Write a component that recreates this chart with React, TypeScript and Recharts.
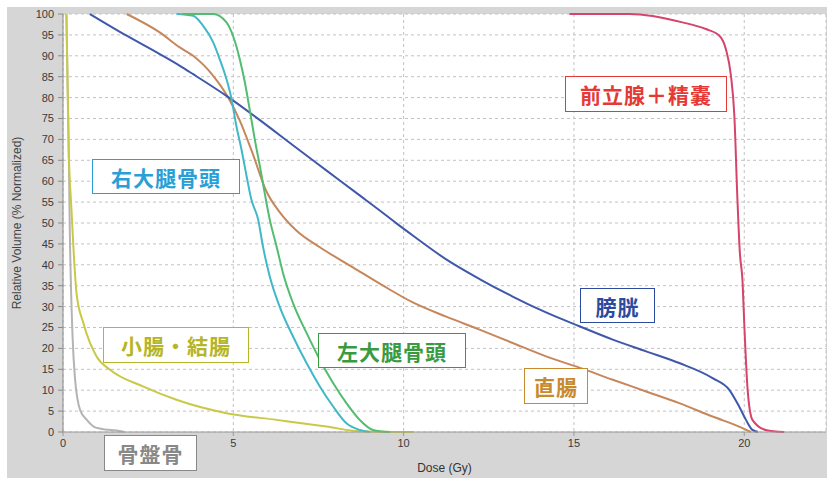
import React from 'react';
import { LineChart, Line, XAxis, YAxis, CartesianGrid } from 'recharts';

// Dose (Gy) and relative volume (%) per structure
const bladderDose = [0.79, 1.87, 2.84, 3.43, 3.82, 4.8, 5.78, 6.75, 7.73, 8.71, 9.3, 9.79, 10.27, 11.25, 12.23, 13.2, 14.18, 15.16, 16.14, 17.12, 18.09, 19.07, 19.56, 19.85, 20.05, 20.24, 20.4];
const bladderVol = [100, 94.8, 90.4, 87.6, 85.6, 80.4, 74.6, 68.6, 62.6, 56.6, 53.0, 49.9, 47.0, 41.3, 36.6, 32.4, 28.6, 25.3, 22.1, 19.3, 16.5, 12.9, 10.1, 6.1, 2.9, 0.5, 0];

const rectumDose = [1.87, 2.84, 3.43, 3.82, 4.41, 4.85, 5.19, 5.55, 5.97, 6.36, 6.85, 7.54, 8.51, 9.4, 10.27, 11.25, 12.23, 13.2, 14.18, 15.16, 16.14, 17.12, 18.09, 19.07, 19.85, 20.2];
const rectumVol = [100, 95.6, 92, 90, 85.2, 80, 74.5, 67, 57.6, 52.6, 48.2, 44.2, 39.4, 35.0, 31.0, 27.6, 24.5, 21.3, 18.1, 15.4, 12.5, 9.7, 6.9, 3.7, 1.3, 0];

const rightFemurDose = [3.33, 3.82, 4.11, 4.41, 4.6, 4.8, 4.95, 5.09, 5.24, 5.39, 5.53, 5.73, 5.87, 6.07, 6.36, 6.75, 7.15, 7.54, 7.93, 8.32, 8.71, 9.0];
const rightFemurVol = [100, 99.6, 97.2, 93.2, 89.2, 84.4, 79.6, 73.2, 67.6, 61.2, 55.6, 50.8, 44.4, 37.2, 30, 22.9, 16.5, 10.9, 6.1, 2.1, 0.5, 0];

const leftFemurDose = [3.5, 4.41, 4.8, 4.99, 5.19, 5.34, 5.48, 5.63, 5.78, 5.92, 6.07, 6.27, 6.46, 6.75, 7.15, 7.54, 7.93, 8.32, 8.71, 9.1, 9.6];
const leftFemurVol = [100, 100, 98, 94.8, 89.2, 83.6, 77.2, 70, 63.6, 57.2, 50.8, 44.4, 38, 30.9, 23.7, 17.3, 11.7, 6.9, 2.9, 0.5, 0];

const bowelDose = [0.1, 0.16, 0.25, 0.3, 0.4, 0.6, 0.99, 1.38, 2.35, 3.33, 4.8, 6.27, 7.73, 8.71, 10.3];
const bowelVol = [100, 70, 53, 45, 33, 26, 18, 14.9, 10.9, 7.7, 4.5, 2.9, 1.3, 0.2, 0];

const pelvisDose = [0.1, 0.16, 0.2, 0.28, 0.35, 0.5, 0.7, 0.9, 1.1, 1.7, 1.8];
const pelvisVol = [100, 72, 48, 23, 13, 5.3, 2.9, 1.3, 0.8, 0.2, 0];

const prostateDose = [14.87, 16.63, 18.19, 18.87, 19.27, 19.46, 19.61, 19.71, 19.8, 19.87, 19.95, 20.0, 20.1, 20.24, 20.63, 21.17];
const prostateVol = [100, 100, 98, 96.4, 94.8, 91.6, 85.2, 75.6, 55.6, 43, 36, 26, 10, 2.9, 0.5, 0];

const xTicks = [0, 5, 10, 15, 20];
const yTicks = [0, 5, 10, 15, 20, 25, 30, 35, 40, 45, 50, 55, 60, 65, 70, 75, 80, 85, 90, 95, 100];

const toPoints = (d: number[], v: number[]) => d.map((x, i) => ({ dose: x, vol: v[i] }));

const series = [
  { key: 'pelvis', data: toPoints(pelvisDose, pelvisVol), color: '#b4b4b4' },
  { key: 'bowel', data: toPoints(bowelDose, bowelVol), color: '#c9c948' },
  { key: 'rectum', data: toPoints(rectumDose, rectumVol), color: '#c6875a' },
  { key: 'bladder', data: toPoints(bladderDose, bladderVol), color: '#3f58aa' },
  { key: 'rightFemur', data: toPoints(rightFemurDose, rightFemurVol), color: '#40b8c8' },
  { key: 'leftFemur', data: toPoints(leftFemurDose, leftFemurVol), color: '#52bd70' },
  { key: 'prostate', data: toPoints(prostateDose, prostateVol), color: '#d5446c' },
];

const labels = [
  { text: '右大腿骨頭', color: '#2a9fd6', left: 92, top: 159, width: 148, height: 35 },
  { text: '前立腺＋精嚢', color: '#e53935', left: 565, top: 76, width: 162, height: 36 },
  { text: '膀胱', color: '#2c4a9e', left: 580, top: 288, width: 75, height: 35 },
  { text: '小腸・結腸', color: '#b5b528', left: 103, top: 327, width: 146, height: 36 },
  { text: '左大腿骨頭', color: '#3a9a40', left: 318, top: 333, width: 148, height: 35 },
  { text: '直腸', color: '#c98a2e', left: 524, top: 368, width: 64, height: 36 },
  { text: '骨盤骨', color: '#888888', left: 104, top: 435, width: 93, height: 36 },
];

const tickStyle = { fill: '#3a3a3a', fontSize: 11, fontFamily: 'Liberation Sans, Arial, sans-serif' };

export default function App() {
  return (
    <div style={{ position: 'absolute', left: 0, top: 0, width: 827, height: 478, background: '#ffffff', overflow: 'hidden' }}>
      <div style={{ position: 'absolute', left: 7, top: 7, right: 0, bottom: 0, background: '#d6d6d6' }} />
      <div style={{ position: 'absolute', left: 0, top: 0 }}>
        <LineChart width={827} height={478} margin={{ top: 14, right: 1, left: 8, bottom: 0 }}>
          <CartesianGrid fill="#ffffff" stroke="#c2c2c2" strokeDasharray="3 3" />
          <XAxis
            type="number"
            dataKey="dose"
            domain={[0, 22.4]}
            ticks={xTicks}
            allowDataOverflow
            height={46}
            stroke="#9a9a9a"
            tickSize={4}
            tickMargin={3}
            tick={tickStyle}
            label={{ value: 'Dose (Gy)', position: 'insideBottom', offset: 6, style: { fill: '#333', fontSize: 12, fontFamily: 'Liberation Sans, Arial, sans-serif' } }}
          />
          <YAxis
            type="number"
            dataKey="vol"
            domain={[0, 100]}
            ticks={yTicks}
            interval={0}
            width={55}
            stroke="#8a8a8a"
            tickSize={5}
            tickMargin={4}
            tick={tickStyle}
            label={{ value: 'Relative Volume (% Normalized)', angle: -90, position: 'insideLeft', offset: 9, style: { textAnchor: 'middle', fill: '#444', fontSize: 12, fontFamily: 'Liberation Sans, Arial, sans-serif' } }}
          />
          {series.map((s) => (
            <Line
              key={s.key}
              data={s.data}
              dataKey="vol"
              type="monotone"
              stroke={s.color}
              strokeWidth={2}
              dot={false}
              isAnimationActive={false}
            />
          ))}
        </LineChart>
      </div>
      {labels.map((l) => (
        <div
          key={l.text}
          style={{
            position: 'absolute',
            left: l.left,
            top: l.top,
            width: l.width,
            height: l.height,
            boxSizing: 'border-box',
            border: `1.5px solid ${l.color}`,
            background: '#ffffff',
            color: l.color,
            display: 'flex',
            alignItems: 'center',
            justifyContent: 'center',
            fontFamily: '"Noto Sans CJK JP", sans-serif',
            fontWeight: 700,
            fontSize: 21,
            letterSpacing: 1,
            whiteSpace: 'nowrap',
          }}
        >
          {l.text}
        </div>
      ))}
    </div>
  );
}
